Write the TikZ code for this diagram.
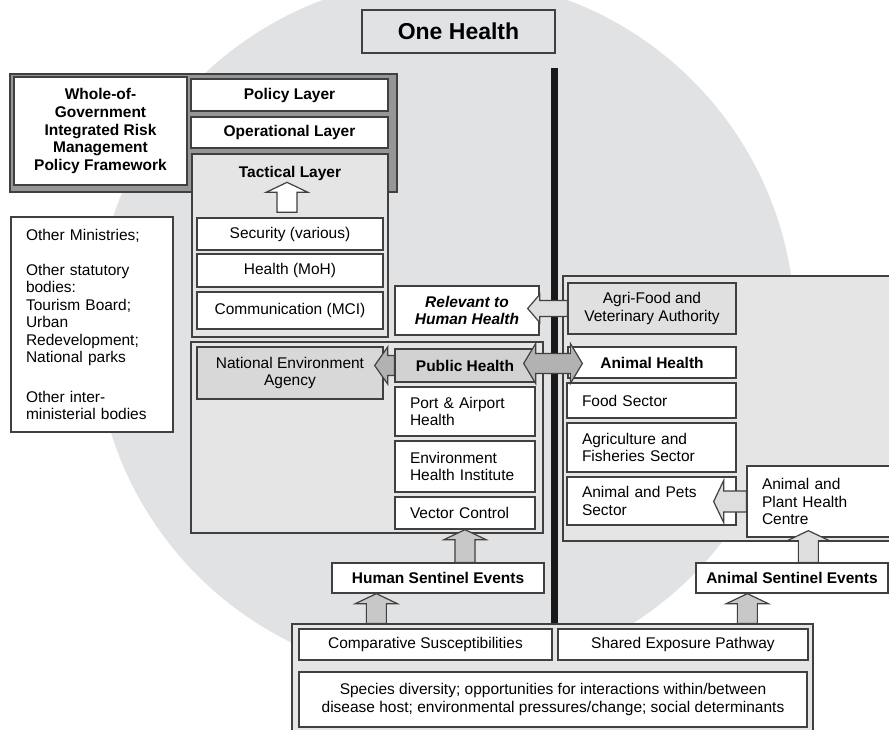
\documentclass[tikz,border=0pt]{standalone}
\usepackage{fontspec}
\setmainfont{Liberation Sans}
\usepackage{tikz}
\usetikzlibrary{calc, positioning}

\definecolor{circ}{RGB}{225,226,228}
\definecolor{panel}{RGB}{229,229,229}
\definecolor{framegray}{RGB}{150,150,150}
\definecolor{neagray}{RGB}{216,216,216}
\definecolor{pubgray}{RGB}{210,210,210}
\definecolor{avagray}{RGB}{224,224,224}
\definecolor{edge}{RGB}{64,64,64}
\definecolor{arrlight}{RGB}{222,222,222}
\definecolor{arrmid}{RGB}{200,200,200}
\definecolor{arrdark}{RGB}{178,178,178}

\newcommand{\boxfont}{\fontsize{15.5}{17.5}\selectfont}
\newcommand{\headfont}{\fontsize{15.5}{17.7}\selectfont\bfseries}
\newcommand{\titlefont}{\fontsize{23}{26}\selectfont\bfseries}

\tikzset{
  box/.style={draw=edge, line width=1.3pt, fill=white, inner sep=0pt, align=center, font=\boxfont},
  lbox/.style={box, align=left, text width=#1},
  wh/.style 2 args={minimum width=#1pt, minimum height=#2pt},
  blk/.style={draw=edge, line width=1.2pt, line join=miter}
}

\newcommand{\uparr}[3]{%
  \filldraw[blk, fill=#1] let \p1=#2, \p2=#3 in
    (\x1-10pt,\y1) -- (\x1-10pt,\y2-10pt) -- (\x1-21pt,\y2-10pt) -- (\x1,\y2)
    -- (\x1+21pt,\y2-10pt) -- (\x1+10pt,\y2-10pt) -- (\x1+10pt,\y1) -- cycle;}
\newcommand{\leftarr}[6]{%
  \filldraw[blk, fill=#1] let \p1=#2, \p2=#3 in
    (\x1,\y1+#4) -- (\x2+#6,\y1+#4) -- (\x2+#6,\y1+#5) -- (\x2,\y1)
    -- (\x2+#6,\y1-#5) -- (\x2+#6,\y1-#4) -- (\x1,\y1-#4) -- cycle;}
\newcommand{\dblarr}[3]{%
  \filldraw[blk, fill=#1] let \p1=#2, \p2=#3 in
    (\x1,\y1) -- (\x1+12pt,\y1+20pt) -- (\x1+12pt,\y1+10pt) -- (\x2-12pt,\y1+10pt)
    -- (\x2-12pt,\y1+20pt) -- (\x2,\y1) -- (\x2-12pt,\y1-20pt) -- (\x2-12pt,\y1-10pt)
    -- (\x1+12pt,\y1-10pt) -- (\x1+12pt,\y1-20pt) -- cycle;}

\begin{document}
\begin{tikzpicture}[x=1pt, y=-1pt]
    \useasboundingbox (0,0) rectangle (889,730);
    \fill[circ] (445,328) circle (350pt);
    \draw[line width=7pt, black!90] (554,68) -- (554,624);

    \node[box, fill=circ, wh={193}{43}, font=\titlefont] (oh) at (458.5,31.5) {One Health};

    \node[box, fill=framegray, wh={387}{118}] (frame) at (203.5,133) {};
    \node[box, wh={173}{108}, font=\headfont] (wog) at (100.5,131) {Whole-of-\\Government\\Integrated Risk\\Management\\Policy Framework};
    \node[box, wh={197}{32}, font=\headfont] (pol) at (289.5,95) {Policy Layer};
    \node[box, wh={197}{31}, font=\headfont] (ops) at (289.5,132.5) {Operational Layer};
    \node[box, fill=panel, wh={196}{183}] (tac) at (290,245.5) {};
    \node[font=\headfont, inner sep=0pt] (tacl) at (290,173) {Tactical Layer};
    \node[box, wh={186}{32}] (sec) at (290,234) {Security (various)};
    \node[box, wh={186}{33}] (moh) at (290,270.5) {Health (MoH)};
    \node[box, wh={186}{37}] (mci) at (290,310.5) {Communication (MCI)};

    \node[lbox=132pt, wh={162}{215}] (oth) at (92,324.5) {Other Ministries;\\[17.5pt]
        Other statutory\\bodies:\\Tourism Board;\\Urban\\Redevelopment;\\National parks\\[22pt]
        Other inter-\\ministerial bodies};

    \node[box, fill=panel, wh={352}{191}] (hum) at (367,437.5) {};
    \node[box, fill=neagray, wh={186}{52}] (nea) at (290,373) {National Environment\\Agency};
    \node[box, fill=pubgray, wh={140}{33}, font=\headfont] (pub) at (465,365.5) {Public Health};
    \node[lbox=110pt, wh={140}{49}] (port) at (465,411.5) {Port \& Airport\\Health};
    \node[lbox=110pt, wh={140}{51}] (ehi) at (465,466.5) {Environment\\Health Institute};
    \node[lbox=110pt, wh={140}{32}] (vec) at (465,513) {Vector Control};
    \node[box, wh={144}{49}, font=\headfont\itshape] (rel) at (467,310.5) {Relevant to\\Human Health};

    \node[box, fill=panel, wh={334}{265}] (ani) at (730,408.5) {};
    \node[box, fill=avagray, wh={168}{51}] (ava) at (652,308.5) {Agri-Food and\\Veterinary Authority};
    \node[box, wh={168}{31}, font=\headfont] (anh) at (652,362.5) {Animal Health};
    \node[lbox=139pt, wh={169}{35}] (food) at (651.5,400.5) {Food Sector};
    \node[lbox=139pt, wh={169}{49}] (agri) at (651.5,447.5) {Agriculture and\\Fisheries Sector};
    \node[lbox=139pt, wh={169}{48}] (pets) at (651.5,501) {Animal and Pets\\Sector};
    \node[lbox=118pt, wh={148}{71}] (aphc) at (821,501.5) {Animal and\\Plant Health\\Centre};

    \node[box, wh={212}{30}, font=\headfont] (hse) at (438,578) {Human Sentinel Events};
    \node[box, wh={192}{30}, font=\headfont] (ase) at (792,578) {Animal Sentinel Events};

    \node[box, fill=panel, wh={521}{112}] (base) at (552.5,680) {};
    \node[box, wh={253}{31}] (comp) at (425.5,644.5) {Comparative Susceptibilities};
    \node[box, wh={250}{31}] (shr) at (683,644.5) {Shared Exposure Pathway};
    \node[box, wh={508}{55}] (spc) at (553,699.5) {Species diversity; opportunities for interactions within/between\\disease host; environmental pressures/change; social determinants};

    \uparr{white}{($(sec.north)+(-3,-5)$)}{($(sec.north)+(-3,-35)$)}
    \uparr{arrmid}{(hse.north -| vec.south)}{(vec.south)}
    \uparr{arrmid}{($(base.north -| hse.south west)+(45,0)$)}{($(hse.south west)+(45,0)$)}
    \uparr{arrmid}{($(base.north -| ase.south west)+(52,0)$)}{($(ase.south west)+(52,0)$)}
    \uparr{arrlight}{($(ase.north west)+(113,0)$)}{($(aphc.south west)+(62,-7)$)}
    \leftarr{arrlight}{(ava.west)}{($(rel.east)+(-12,0)$)}{8pt}{14pt}{12pt}
    \leftarr{arrlight}{(aphc.west)}{($(pets.east)+(-23,0)$)}{10.5pt}{21pt}{10pt}
    \leftarr{arrdark}{(pub.west)}{($(nea.east)+(-9,0)$)}{10pt}{18.5pt}{13pt}
    \dblarr{arrdark}{($(pub.east)+(-12,-2)$)}{($(anh.west)+(15,0)$)}
\end{tikzpicture}
\end{document}
